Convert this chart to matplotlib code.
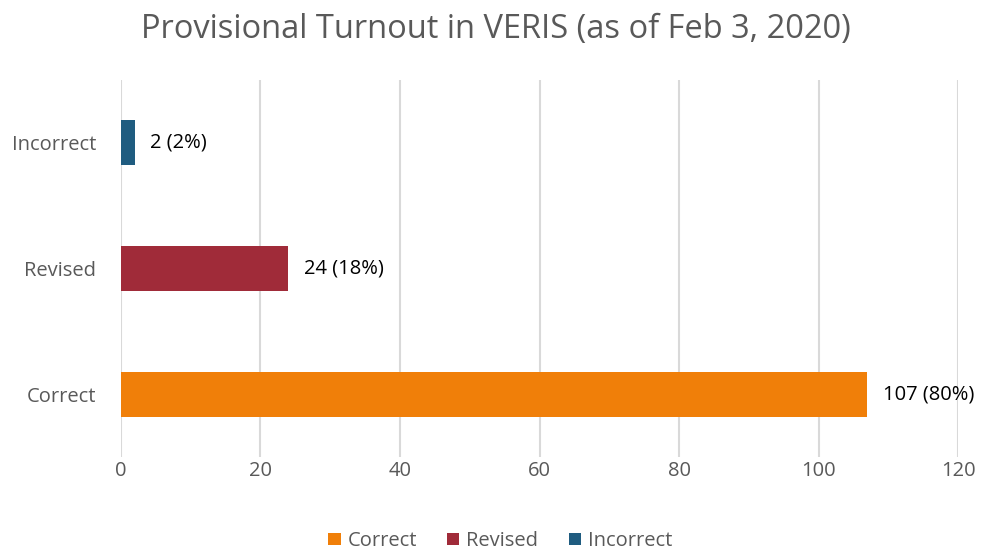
import matplotlib.pyplot as plt
from matplotlib.patches import Patch

categories = ['Correct', 'Revised', 'Incorrect']
counts = [107, 24, 2]
percents = [80, 18, 2]
colors = ['#F07F09', '#A02B39', '#1F5C80']
xticks = [0, 20, 40, 60, 80, 100, 120]

plt.rcParams['font.family'] = ['Open Sans', 'DejaVu Sans']

fig = plt.figure(figsize=(9.81, 5.51), dpi=100)
ax = fig.add_axes([0.1233, 0.1706, 0.8533, 0.6842])

ypos = range(len(categories))
ax.barh(ypos, counts, height=0.36, color=colors, zorder=3)

# value labels right of each bar
for y, c, p in zip(ypos, counts, percents):
    ax.text(c + 2.2, y, f'{c} ({p}%)', va='center', ha='left', fontsize=14.5, color='black')

ax.set_xlim(0, 120)
ax.set_ylim(-0.5, 2.5)
ax.set_xticks(xticks)
ax.set_yticks(list(ypos))
ax.set_yticklabels(categories)
ax.tick_params(axis='both', length=0, labelsize=14.5, labelcolor='#595959')
ax.tick_params(axis='x', pad=3)
ax.tick_params(axis='y', pad=18)
ax.grid(axis='x', color='#D9D9D9', linewidth=1.5, zorder=0)
for s in ax.spines.values():
    s.set_visible(False)

fig.text(0.505, 0.947, 'Provisional Turnout in VERIS (as of Feb 3, 2020)', ha='center', va='center',
         fontsize=23.5, color='#595959')

legend_elements = [Patch(facecolor=col, label=cat) for cat, col in zip(categories, colors)]
fig.legend(handles=legend_elements, loc='center', bbox_to_anchor=(0.51, 0.018), ncol=3, frameon=False,
           fontsize=14.5, labelcolor='#595959', handlelength=0.6, handleheight=0.6,
           handletextpad=0.35, columnspacing=1.5)

fig.savefig('out.png', dpi=100)
